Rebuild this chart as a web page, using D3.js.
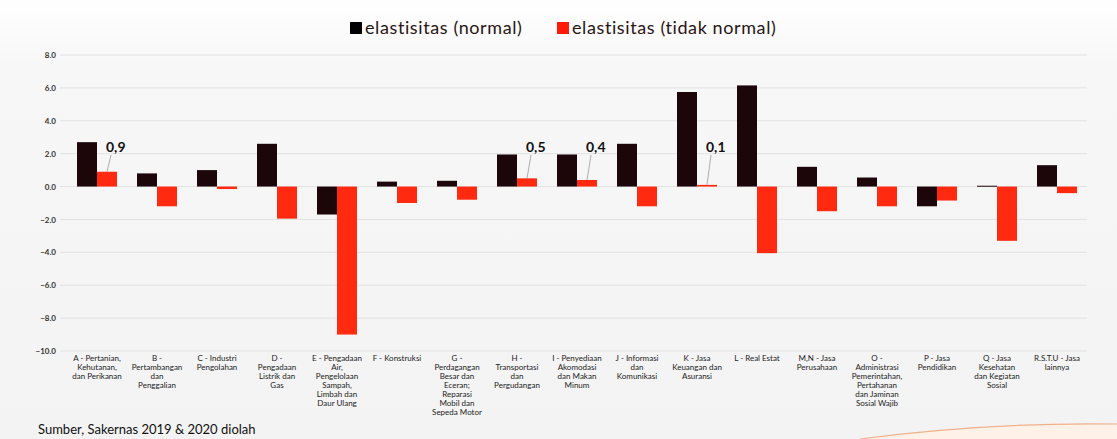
<!DOCTYPE html>
<html>
<head>
<meta charset="utf-8">
<script src="https://cdn.jsdelivr.net/npm/d3@7"></script>
<style>
  body { margin: 0; background: #f6f6f6; }
  svg { display: block; font-family: Lato, "Open Sans", sans-serif; }
</style>
</head>
<body>
<div id="chart"></div>
<script>
// categories (wrapped lines for the axis labels)
const categories = [
    ["A - Pertanian,", "Kehutanan,", "dan Perikanan"],
    ["B -", "Pertambangan", "dan", "Penggalian"],
    ["C - Industri", "Pengolahan"],
    ["D -", "Pengadaan", "Listrik dan", "Gas"],
    ["E - Pengadaan", "Air,", "Pengelolaan", "Sampah,", "Limbah dan", "Daur Ulang"],
    ["F - Konstruksi"],
    ["G -", "Perdagangan", "Besar dan", "Eceran;", "Reparasi", "Mobil dan", "Sepeda Motor"],
    ["H -", "Transportasi", "dan", "Pergudangan"],
    ["I - Penyediaan", "Akomodasi", "dan Makan", "Minum"],
    ["J - Informasi", "dan", "Komunikasi"],
    ["K - Jasa", "Keuangan dan", "Asuransi"],
    ["L - Real Estat"],
    ["M,N - Jasa", "Perusahaan"],
    ["O -", "Administrasi", "Pemerintahan,", "Pertahanan", "dan Jaminan", "Sosial Wajib"],
    ["P - Jasa", "Pendidikan"],
    ["Q - Jasa", "Kesehatan", "dan Kegiatan", "Sosial"],
    ["R.S.T.U - Jasa", "lainnya"]
];
const normalValues = [2.7, 0.8, 1.0, 2.6, -1.7, 0.3, 0.35, 1.95, 1.95, 2.6, 5.75, 6.15, 1.2, 0.55, -1.2, 0.05, 1.3];
const tidakNormalValues = [0.9, -1.2, -0.15, -1.95, -9.0, -1.0, -0.8, 0.5, 0.4, -1.2, 0.1, -4.05, -1.5, -1.2, -0.85, -3.3, -0.4];
// data labels shown on some of the red bars ("" = no label)
const tidakNormalLabels = ["0,9", "", "", "", "", "", "", "0,5", "0,4", "", "0,1", "", "", "", "", "", ""];
const seriesNames = ["elastisitas (normal)", "elastisitas (tidak normal)"];
const yTicks = [8, 6, 4, 2, 0, -2, -4, -6, -8, -10];

const width = 1117, height = 439;
const colors = ["#1c0609", "#ff2a10"];

const svg = d3.select("#chart").append("svg")
    .attr("width", width)
    .attr("height", height);

// slide background
const grad = svg.append("defs").append("linearGradient")
    .attr("id", "bg").attr("x1", 0).attr("y1", 0).attr("x2", 0).attr("y2", 1);
grad.append("stop").attr("offset", "0%").attr("stop-color", "#ffffff");
grad.append("stop").attr("offset", "15%").attr("stop-color", "#f7f7f7");
grad.append("stop").attr("offset", "100%").attr("stop-color", "#f3f3f3");
svg.append("rect").attr("width", width).attr("height", height).attr("fill", "url(#bg)");

const idx = d3.range(categories.length);

const x = d3.scaleBand()
    .domain(idx)
    .range([67, 1087])
    .paddingInner(1 / 3)
    .paddingOuter(1 / 6);

const x1 = d3.scaleBand()
    .domain([0, 1])
    .range([0, x.bandwidth()]);

const y = d3.scaleLinear()
    .domain([-10, 8])
    .range([351, 55]);

// gridlines
svg.append("g")
    .selectAll("line")
    .data(yTicks)
    .join("line")
    .attr("x1", 60)
    .attr("x2", 1087)
    .attr("y1", d => y(d))
    .attr("y2", d => y(d))
    .attr("stroke", "#e2e2e2")
    .attr("stroke-width", 1);

// y axis labels
const yAxis = svg.append("g")
    .attr("transform", "translate(56,0)")
    .call(d3.axisLeft(y).tickValues(yTicks).tickFormat(d3.format(".1f")).tickSize(0).tickPadding(0));
yAxis.select(".domain").remove();
yAxis.selectAll("text")
    .attr("fill", "#333")
    .style("font-size", "8px")
    .style("font-weight", "bold")
    .style("font-family", "Lato, sans-serif");

// bars
const seriesValues = [normalValues, tidakNormalValues];
seriesValues.forEach((vals, s) => {
    svg.append("g")
        .selectAll("rect")
        .data(vals)
        .join("rect")
        .attr("x", (d, i) => x(i) + x1(s))
        .attr("width", x1.bandwidth())
        .attr("y", d => y(Math.max(0, d)))
        .attr("height", d => Math.max(1, Math.abs(y(d) - y(0))))
        .attr("fill", colors[s]);
});

// data labels with leader lines
const labelled = idx.filter(i => tidakNormalLabels[i] !== "");
const lbl = svg.append("g");
labelled.forEach(i => {
    const cx = x(i) + x1(1) + x1.bandwidth() / 2;
    const ty = y(tidakNormalValues[i]);
    const by = y(2.1);
    lbl.append("line")
        .attr("x1", cx)
        .attr("y1", ty)
        .attr("x2", cx + 4)
        .attr("y2", by + 3)
        .attr("stroke", "#9a9a9a")
        .attr("stroke-width", 0.8);
    lbl.append("text")
        .attr("x", cx - 1)
        .attr("y", by)
        .attr("fill", "#111")
        .style("font-size", "14px")
        .style("font-weight", "bold")
        .text(tidakNormalLabels[i]);
});

// category labels
const catG = svg.append("g")
    .selectAll("text")
    .data(idx)
    .join("text")
    .attr("text-anchor", "middle")
    .attr("fill", "#222")
    .style("font-size", "8px");
catG.each(function (i) {
    d3.select(this).selectAll("tspan")
        .data(categories[i])
        .join("tspan")
        .attr("x", x(i) + x.bandwidth() / 2)
        .attr("y", (d, k) => 361 + k * 9)
        .text(d => d);
});

// legend
const legend = svg.append("g");
const legendX = [350, 557];
seriesNames.forEach((name, s) => {
    legend.append("rect")
        .attr("x", legendX[s])
        .attr("y", 22)
        .attr("width", 12)
        .attr("height", 12)
        .attr("fill", s === 0 ? "#000" : "#ff1a0a");
    legend.append("text")
        .attr("x", legendX[s] + 15)
        .attr("y", 34)
        .attr("fill", "#2a1414")
        .style("font-size", "18px")
        .style("letter-spacing", "0.6px")
        .text(name);
});

// source note
svg.append("text")
    .attr("x", 38)
    .attr("y", 434)
    .attr("fill", "#111")
    .style("font-size", "13px")
    .text("Sumber, Sakernas 2019 & 2020 diolah");

// slide decoration, bottom right
svg.append("path")
    .attr("d", "M860,439 Q990,422 1117,424 L1117,439 Z")
    .attr("fill", "#fdf1e8");
svg.append("path")
    .attr("d", "M860,439 Q990,422 1117,424")
    .attr("fill", "none")
    .attr("stroke", "#f0b08a")
    .attr("stroke-width", 1.2);
</script>
</body>
</html>
